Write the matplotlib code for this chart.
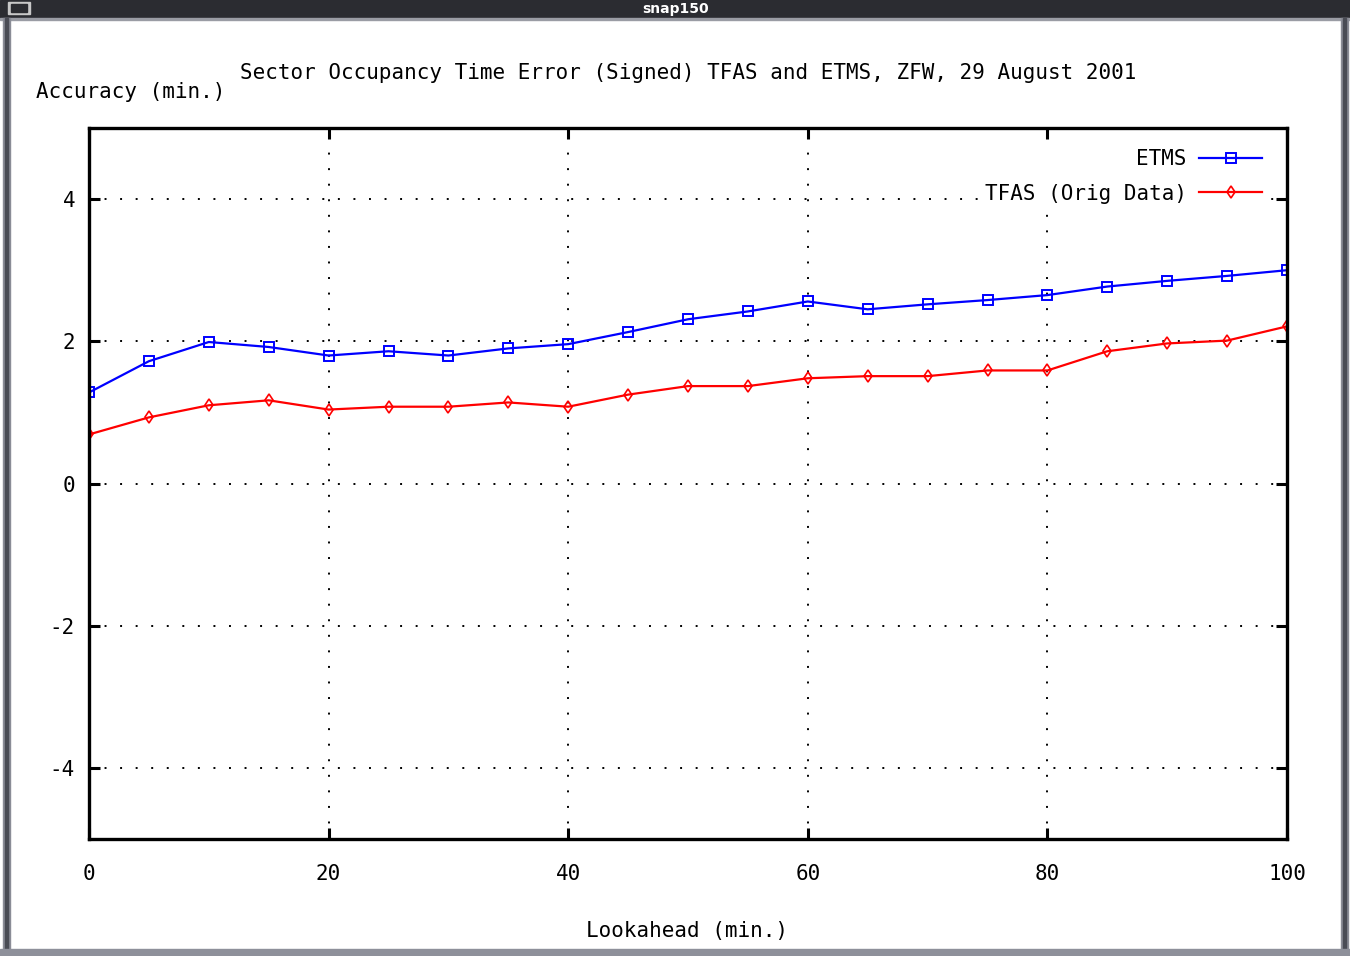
import matplotlib
matplotlib.use("Agg")
import matplotlib.pyplot as plt
from matplotlib.patches import Rectangle

# data
lookahead = [0, 5, 10, 15, 20, 25, 30, 35, 40, 45, 50,
             55, 60, 65, 70, 75, 80, 85, 90, 95, 100]
etms = [1.28, 1.72, 1.99, 1.92, 1.80, 1.86, 1.80, 1.90, 1.96, 2.13, 2.31,
        2.42, 2.56, 2.45, 2.52, 2.58, 2.65, 2.77, 2.85, 2.92, 3.00]
tfas = [0.69, 0.93, 1.10, 1.17, 1.04, 1.08, 1.08, 1.14, 1.08, 1.25, 1.37,
        1.37, 1.48, 1.51, 1.51, 1.59, 1.59, 1.86, 1.97, 2.01, 2.21]
xticks = [0, 20, 40, 60, 80, 100]
yticks = [-4, -2, 0, 2, 4]

plt.rcParams['font.family'] = ['DejaVu Sans Mono']
plt.rcParams['axes.unicode_minus'] = False
FS = 15

W, H = 1350, 956
fig = plt.figure(figsize=(W / 100, H / 100), dpi=100)
fig.patch.set_facecolor('white')

# window frame of the screenshot
def px_rect(x0, y0, x1, y1, color):
    fig.patches.append(Rectangle((x0 / W, 1 - y1 / H), (x1 - x0) / W, (y1 - y0) / H,
                                 transform=fig.transFigure, color=color, zorder=0))

px_rect(0, 0, W, 18, '#2b2c31')
px_rect(0, 18, W, 20, '#9a9ca4')
px_rect(3, 18, 10, H, '#8a8c96')
px_rect(5, 18, 8, H, '#4a4c55')
px_rect(1341, 18, 1348, H, '#8a8c96')
px_rect(1343, 18, 1346, H, '#4a4c55')
px_rect(0, 949, W, H, '#8e909a')
px_rect(8, 2, 30, 14, '#c8c8c8')
px_rect(11, 4, 27, 12, '#2b2c31')
fig.text(676 / W, 1 - 9 / H, "snap150", color='white', fontsize=10, ha='center', va='center',
         family='DejaVu Sans', weight='bold')

ax = fig.add_axes([89 / W, 1 - 839 / H, (1287 - 89) / W, (839 - 128) / H])
ax.set_xlim(0, 100)
ax.set_ylim(-5, 5)

ax.plot(lookahead, etms, color='#0000ff', lw=1.6, marker='s', ms=7, mfc='none',
        mec='#0000ff', mew=1.4, label='ETMS')
ax.plot(lookahead, tfas, color='#ff0000', lw=1.6, marker='d', ms=6, mfc='none',
        mec='#ff0000', mew=1.2, label='TFAS (Orig Data)')

ax.set_xticks(xticks)
ax.set_yticks(yticks)
ax.tick_params(direction='in', length=8, width=2.2, top=True, right=True,
               labelsize=FS, colors='black')
ax.tick_params(axis='x', pad=18)
ax.tick_params(axis='y', pad=10)
for s in ax.spines.values():
    s.set_linewidth(2.4)

for x in xticks[1:-1]:
    ax.axvline(x, color='black', lw=1.4, ls=(0, (1, 7)), zorder=1)
for y in yticks:
    ax.axhline(y, color='black', lw=1.4, ls=(0, (1, 7)), zorder=1)

leg = ax.legend(loc='upper right', bbox_to_anchor=(1 - 19 / 1198, 1 - 15 / 711),
                markerfirst=False, frameon=True, fontsize=FS,
                handlelength=3.0, handletextpad=0.6, labelspacing=0.69,
                borderaxespad=0, borderpad=0.3)
leg.get_frame().set_facecolor('white')
leg.get_frame().set_edgecolor('none')
leg.get_frame().set_alpha(1)

fig.text(688 / W, 1 - 73 / H, "Sector Occupancy Time Error (Signed) TFAS and ETMS, ZFW, 29 August 2001",
         fontsize=FS, ha='center', va='center')
fig.text(36 / W, 1 - 92 / H, "Accuracy (min.)", fontsize=FS, ha='left', va='center')
fig.text(687 / W, 1 - 931 / H, "Lookahead (min.)", fontsize=FS, ha='center', va='center')

fig.savefig("out.png", dpi=100)
